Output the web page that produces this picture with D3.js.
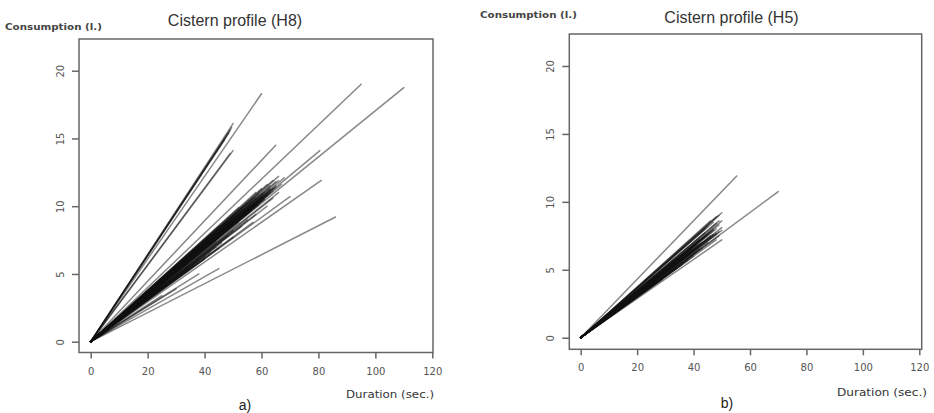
<!DOCTYPE html>
<html>
<head>
<meta charset="utf-8">
<script src="https://cdn.jsdelivr.net/npm/d3@7"></script>
<style>
  html, body { margin: 0; padding: 0; background: #fff; }
  svg { display: block; }
</style>
</head>
<body>
<svg id="chart" width="934" height="413"></svg>
<script>
// ---- Data ----
const xTicks = [0, 20, 40, 60, 80, 100, 120];
const yTicks = [0, 5, 10, 15, 20];
const xTickLabels = ["0", "20", "40", "60", "80", "100", "120"];
const yTickLabels = ["0", "5", "10", "15", "20"];

const titles = ["Cistern profile (H8)", "Cistern profile (H5)"];
const panelLetters = ["a)", "b)"];
const xLabel = "Duration (sec.)";
const yLabel = "Consumption (l.)";

// H8: end points of each flush (duration in s, consumption in l), lines start at origin
const h8Duration = [
  50, 49.5, 48.5, 49, 47, 50, 49, 60, 65, 95, 110, 80.5, 81, 86, 45, 70, 25, 30, 38,
  68, 66, 65, 64, 63, 62, 61, 60, 60, 59, 58, 57, 56, 55, 54, 53, 52, 51, 50, 50, 49,
  48, 47, 46, 45, 44, 43, 42, 41, 40, 39, 38, 37, 36, 35, 34, 32, 30, 28, 26, 24, 22, 20,
  62, 66, 58, 64, 67, 55, 53, 48, 44, 50, 45, 40, 57, 58, 52, 45, 35, 63, 61, 59, 56,
  65, 64, 63, 62, 61, 60, 59, 58, 57, 56, 55, 54, 53, 52, 51, 50, 49, 48, 47, 46,
  66, 65, 63, 61, 60, 58, 57, 55, 53, 51, 49, 47, 45, 43, 41, 39, 37, 35, 33, 31,
  64, 62, 60, 58, 56, 54, 52, 50, 48, 46, 44, 42
];
const h8Consumption = [
  16.1, 15.8, 15.4, 15.6, 14.9, 14.1, 13.9, 18.3, 14.5, 19.0, 18.75, 14.1, 11.9, 9.2, 5.4, 10.7, 3.4, 3.9, 5.0,
  12.1, 12.2, 11.8, 11.9, 11.5, 11.6, 11.0, 11.3, 10.4, 10.9, 10.2, 10.6, 9.6, 10.2, 9.4, 9.9, 8.8, 9.4, 8.2, 9.0, 8.5,
  7.8, 8.4, 7.3, 8.0, 7.0, 7.6, 6.6, 7.3, 6.3, 6.9, 6.0, 6.6, 5.6, 6.3, 5.4, 5.6, 4.8, 5.0, 4.2, 4.2, 3.5, 3.5,
  10.0, 11.0, 9.4, 10.6, 11.6, 9.0, 8.5, 8.9, 7.4, 7.7, 6.9, 6.1, 8.8, 11.0, 9.9, 8.5, 6.6, 11.2, 10.5, 10.1, 9.8,
  11.5, 11.1, 11.0, 10.8, 10.5, 10.7, 10.3, 10.6, 9.9, 10.0, 9.7, 9.8, 9.3, 9.4, 8.9, 8.8, 8.7, 8.3, 8.1, 8.0,
  11.9, 11.4, 11.3, 10.8, 10.9, 10.0, 10.3, 9.5, 9.4, 8.9, 8.6, 8.2, 7.7, 7.5, 7.1, 6.8, 6.4, 6.1, 5.7, 5.3,
  11.3, 10.9, 10.6, 10.1, 9.8, 9.5, 9.1, 8.7, 8.4, 8.0, 7.7, 7.3
];

// H5
const h5Duration = [
  55.3, 70,
  50, 49, 48, 50, 49, 48, 50, 49, 50, 48, 47, 46, 45, 45, 44, 43, 42, 41, 40, 40, 39, 38,
  37, 36, 35, 34, 33, 32, 30, 29, 27, 25, 23, 20, 18, 15, 12, 10, 8, 6, 5, 4,
  48, 47, 46, 44, 43, 49, 47, 45, 42, 38,
  50, 49, 48, 47, 46, 45, 44, 43, 42, 41, 40, 39, 37, 35, 33, 31,
  48, 46, 44, 42, 40, 38, 36
];
const h5Consumption = [
  11.9, 10.75,
  9.2, 9.0, 8.9, 8.6, 8.3, 8.0, 7.9, 7.5, 7.2, 7.2, 8.5, 7.8, 8.2, 7.0, 7.4, 6.6, 7.2, 6.3, 6.8, 6.0, 6.5, 5.7,
  6.2, 5.4, 6.0, 5.1, 5.6, 4.8, 5.0, 4.3, 4.5, 3.8, 3.8, 3.2, 3.0, 2.5, 2.0, 1.6, 1.4, 1.0, 0.9, 0.7,
  8.4, 7.6, 8.6, 8.0, 7.0, 7.8, 7.9, 7.6, 6.5, 6.3,
  8.1, 8.6, 7.6, 8.0, 7.4, 7.6, 7.7, 7.3, 6.9, 6.8, 6.4, 6.2, 6.0, 5.7, 5.3, 5.0,
  7.7, 7.5, 7.1, 6.7, 6.5, 6.1, 5.8
];

// ---- Layout ----
const panels = [
  {
    dur: h8Duration, cons: h8Consumption,
    xr: [90.7, 432.3], yr: [341.7, 70.7],
    box: {x0: 79, y0: 39, x1: 433, y1: 352.5},
    title: {x: 235, y: 26},
    ylab: {x: 5, y: 30, w: 97},
    xlab: {x: 434, y: 398, w: 88},
    letter: {x: 245, y: 410}
  },
  {
    dur: h5Duration, cons: h5Consumption,
    xr: [580.7, 919.3], yr: [337.7, 66],
    box: {x0: 569.3, y0: 34, x1: 921.7, y1: 349.3},
    title: {x: 731.5, y: 23},
    ylab: {x: 480, y: 18, w: 97},
    xlab: {x: 927, y: 396, w: 90},
    letter: {x: 727, y: 408}
  }
];

const svg = d3.select("#chart");
const axisColor = "#666";
const textColor = "#555";

panels.forEach((p, i) => {
  const x = d3.scaleLinear().domain([0, 120]).range(p.xr);
  const y = d3.scaleLinear().domain([0, 20]).range(p.yr);
  const g = svg.append("g");

  // lines
  const pts = p.dur.map((d, k) => ({d: d, c: p.cons[k]}));
  g.append("g").selectAll("line").data(pts).join("line")
    .attr("x1", x(0)).attr("y1", y(0))
    .attr("x2", d => x(d.d)).attr("y2", d => y(d.c))
    .attr("stroke", "#111")
    .attr("stroke-opacity", 0.5)
    .attr("stroke-width", 1.5)
    .attr("stroke-linecap", "round");

  // box
  g.append("rect")
    .attr("x", p.box.x0).attr("y", p.box.y0)
    .attr("width", p.box.x1 - p.box.x0).attr("height", p.box.y1 - p.box.y0)
    .attr("fill", "none").attr("stroke", axisColor).attr("stroke-width", 1.5);

  // x axis
  const xa = g.append("g").attr("transform", `translate(0,${p.box.y1})`)
    .call(d3.axisBottom(x).tickValues(xTicks).tickFormat((d, k) => xTickLabels[k]).tickSize(6).tickPadding(9));
  xa.select(".domain").remove();
  xa.selectAll("line").attr("stroke", axisColor).attr("stroke-width", 1.5);
  xa.selectAll("text").attr("fill", textColor).attr("font-family", "DejaVu Sans, sans-serif").attr("font-size", 10);

  // y axis
  const ya = g.append("g").attr("transform", `translate(${p.box.x0},0)`)
    .call(d3.axisLeft(y).tickValues(yTicks).tickFormat((d, k) => yTickLabels[k]).tickSize(7));
  ya.select(".domain").remove();
  ya.selectAll("line").attr("stroke", axisColor).attr("stroke-width", 1.5);
  ya.selectAll("text")
    .attr("fill", textColor).attr("font-family", "DejaVu Sans, sans-serif").attr("font-size", 10)
    .attr("transform", "rotate(-90)")
    .attr("x", 0).attr("y", -15).attr("dy", 0)
    .attr("text-anchor", "middle");

  // title
  g.append("text").attr("x", p.title.x).attr("y", p.title.y)
    .attr("text-anchor", "middle")
    .attr("font-family", "Liberation Sans, Arial, sans-serif").attr("font-size", 16)
    .attr("fill", "#333").text(titles[i]);

  // y label (top-left)
  g.append("text").attr("x", p.ylab.x).attr("y", p.ylab.y)
    .attr("font-family", "DejaVu Sans, sans-serif").attr("font-size", 9)
    .attr("font-weight", "bold")
    .attr("textLength", p.ylab.w).attr("lengthAdjust", "spacingAndGlyphs")
    .attr("fill", "#444").text(yLabel);

  // x label (bottom-right)
  g.append("text").attr("x", p.xlab.x - p.xlab.w).attr("y", p.xlab.y)
    .attr("font-family", "DejaVu Sans, sans-serif").attr("font-size", 10)
    .attr("textLength", p.xlab.w).attr("lengthAdjust", "spacingAndGlyphs")
    .attr("fill", "#333").text(xLabel);

  // panel letter
  g.append("text").attr("x", p.letter.x).attr("y", p.letter.y)
    .attr("text-anchor", "middle")
    .attr("font-family", "Liberation Sans, Arial, sans-serif").attr("font-size", 14)
    .attr("fill", "#222").text(panelLetters[i]);
});
</script>
</body>
</html>
